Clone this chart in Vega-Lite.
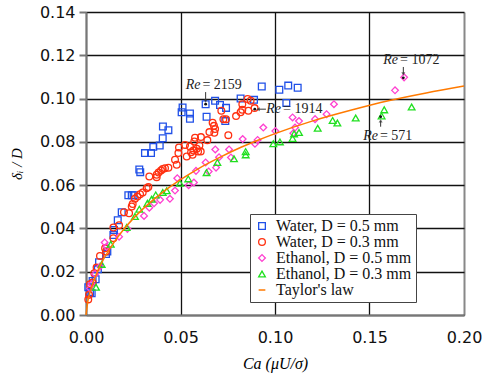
{
  "$schema": "https://vega.github.io/schema/vega-lite/v6.json",
  "width": 378,
  "height": 303,
  "autosize": "none",
  "padding": {"left": 86, "top": 12, "right": 19, "bottom": 64},
  "background": "white",
  "config": {"view": {"stroke": null}, "font": "Liberation Serif"},
  "datasets": {
    "pts": [
      {"s": "Water, D = 0.5 mm", "ca": 0.093, "d": 0.1056},
      {"s": "Water, D = 0.5 mm", "ca": 0.1023, "d": 0.1041},
      {"s": "Water, D = 0.5 mm", "ca": 0.107, "d": 0.106},
      {"s": "Water, D = 0.5 mm", "ca": 0.112, "d": 0.105},
      {"s": "Water, D = 0.5 mm", "ca": 0.106, "d": 0.098},
      {"s": "Water, D = 0.5 mm", "ca": 0.0818, "d": 0.1},
      {"s": "Water, D = 0.5 mm", "ca": 0.0889, "d": 0.0994},
      {"s": "Water, D = 0.5 mm", "ca": 0.0683, "d": 0.099},
      {"s": "Water, D = 0.5 mm", "ca": 0.0633, "d": 0.0974},
      {"s": "Water, D = 0.5 mm", "ca": 0.0709, "d": 0.097},
      {"s": "Water, D = 0.5 mm", "ca": 0.0741, "d": 0.0957},
      {"s": "Water, D = 0.5 mm", "ca": 0.0638, "d": 0.0916},
      {"s": "Water, D = 0.5 mm", "ca": 0.0511, "d": 0.0959},
      {"s": "Water, D = 0.5 mm", "ca": 0.0506, "d": 0.0937},
      {"s": "Water, D = 0.5 mm", "ca": 0.055, "d": 0.0931},
      {"s": "Water, D = 0.5 mm", "ca": 0.055, "d": 0.0907},
      {"s": "Water, D = 0.5 mm", "ca": 0.0737, "d": 0.0896},
      {"s": "Water, D = 0.5 mm", "ca": 0.0407, "d": 0.0871},
      {"s": "Water, D = 0.5 mm", "ca": 0.0436, "d": 0.0854},
      {"s": "Water, D = 0.5 mm", "ca": 0.0406, "d": 0.0817},
      {"s": "Water, D = 0.5 mm", "ca": 0.039, "d": 0.0783},
      {"s": "Water, D = 0.5 mm", "ca": 0.0356, "d": 0.0777},
      {"s": "Water, D = 0.5 mm", "ca": 0.0344, "d": 0.0748},
      {"s": "Water, D = 0.5 mm", "ca": 0.0312, "d": 0.0748},
      {"s": "Water, D = 0.5 mm", "ca": 0.0282, "d": 0.0672},
      {"s": "Water, D = 0.5 mm", "ca": 0.0287, "d": 0.066},
      {"s": "Water, D = 0.5 mm", "ca": 0.0224, "d": 0.0553},
      {"s": "Water, D = 0.5 mm", "ca": 0.0242, "d": 0.0553},
      {"s": "Water, D = 0.5 mm", "ca": 0.0252, "d": 0.0553},
      {"s": "Water, D = 0.5 mm", "ca": 0.0189, "d": 0.0475},
      {"s": "Water, D = 0.5 mm", "ca": 0.0168, "d": 0.0438},
      {"s": "Water, D = 0.5 mm", "ca": 0.0148, "d": 0.0393},
      {"s": "Water, D = 0.5 mm", "ca": 0.0145, "d": 0.037},
      {"s": "Water, D = 0.5 mm", "ca": 0.0113, "d": 0.0293},
      {"s": "Water, D = 0.5 mm", "ca": 0.0106, "d": 0.0282},
      {"s": "Water, D = 0.5 mm", "ca": 0.0069, "d": 0.0244},
      {"s": "Water, D = 0.5 mm", "ca": 0.0063, "d": 0.0211},
      {"s": "Water, D = 0.5 mm", "ca": 0.0051, "d": 0.0165},
      {"s": "Water, D = 0.5 mm", "ca": 0.0035, "d": 0.0157},
      {"s": "Water, D = 0.5 mm", "ca": 0.0012, "d": 0.0128},
      {"s": "Water, D = 0.5 mm", "ca": 0.0021, "d": 0.0106},
      {"s": "Water, D = 0.5 mm", "ca": 0.003, "d": 0.01},
      {"s": "Water, D = 0.3 mm", "ca": 0.0855, "d": 0.0998},
      {"s": "Water, D = 0.3 mm", "ca": 0.0871, "d": 0.099},
      {"s": "Water, D = 0.3 mm", "ca": 0.0827, "d": 0.0974},
      {"s": "Water, D = 0.3 mm", "ca": 0.0859, "d": 0.0944},
      {"s": "Water, D = 0.3 mm", "ca": 0.0827, "d": 0.0948},
      {"s": "Water, D = 0.3 mm", "ca": 0.0892, "d": 0.0956},
      {"s": "Water, D = 0.3 mm", "ca": 0.0794, "d": 0.0919},
      {"s": "Water, D = 0.3 mm", "ca": 0.0818, "d": 0.0937},
      {"s": "Water, D = 0.3 mm", "ca": 0.0716, "d": 0.0944},
      {"s": "Water, D = 0.3 mm", "ca": 0.0727, "d": 0.0905},
      {"s": "Water, D = 0.3 mm", "ca": 0.0741, "d": 0.0905},
      {"s": "Water, D = 0.3 mm", "ca": 0.067, "d": 0.0888},
      {"s": "Water, D = 0.3 mm", "ca": 0.0677, "d": 0.0874},
      {"s": "Water, D = 0.3 mm", "ca": 0.0683, "d": 0.0859},
      {"s": "Water, D = 0.3 mm", "ca": 0.0679, "d": 0.0842},
      {"s": "Water, D = 0.3 mm", "ca": 0.0653, "d": 0.0845},
      {"s": "Water, D = 0.3 mm", "ca": 0.0753, "d": 0.0831},
      {"s": "Water, D = 0.3 mm", "ca": 0.0642, "d": 0.0808},
      {"s": "Water, D = 0.3 mm", "ca": 0.0608, "d": 0.0822},
      {"s": "Water, D = 0.3 mm", "ca": 0.0577, "d": 0.0819},
      {"s": "Water, D = 0.3 mm", "ca": 0.0573, "d": 0.0802},
      {"s": "Water, D = 0.3 mm", "ca": 0.06, "d": 0.0783},
      {"s": "Water, D = 0.3 mm", "ca": 0.0586, "d": 0.0768},
      {"s": "Water, D = 0.3 mm", "ca": 0.055, "d": 0.0779},
      {"s": "Water, D = 0.3 mm", "ca": 0.0568, "d": 0.076},
      {"s": "Water, D = 0.3 mm", "ca": 0.0593, "d": 0.0755},
      {"s": "Water, D = 0.3 mm", "ca": 0.0607, "d": 0.0755},
      {"s": "Water, D = 0.3 mm", "ca": 0.0524, "d": 0.0786},
      {"s": "Water, D = 0.3 mm", "ca": 0.0556, "d": 0.0752},
      {"s": "Water, D = 0.3 mm", "ca": 0.0564, "d": 0.074},
      {"s": "Water, D = 0.3 mm", "ca": 0.0533, "d": 0.0732},
      {"s": "Water, D = 0.3 mm", "ca": 0.0492, "d": 0.0774},
      {"s": "Water, D = 0.3 mm", "ca": 0.0489, "d": 0.0748},
      {"s": "Water, D = 0.3 mm", "ca": 0.0471, "d": 0.0717},
      {"s": "Water, D = 0.3 mm", "ca": 0.048, "d": 0.0694},
      {"s": "Water, D = 0.3 mm", "ca": 0.0436, "d": 0.068},
      {"s": "Water, D = 0.3 mm", "ca": 0.0418, "d": 0.0678},
      {"s": "Water, D = 0.3 mm", "ca": 0.0406, "d": 0.0675},
      {"s": "Water, D = 0.3 mm", "ca": 0.0397, "d": 0.0668},
      {"s": "Water, D = 0.3 mm", "ca": 0.0384, "d": 0.0658},
      {"s": "Water, D = 0.3 mm", "ca": 0.0374, "d": 0.0648},
      {"s": "Water, D = 0.3 mm", "ca": 0.0374, "d": 0.0637},
      {"s": "Water, D = 0.3 mm", "ca": 0.0335, "d": 0.064},
      {"s": "Water, D = 0.3 mm", "ca": 0.033, "d": 0.0591},
      {"s": "Water, D = 0.3 mm", "ca": 0.0321, "d": 0.0586},
      {"s": "Water, D = 0.3 mm", "ca": 0.03, "d": 0.0566},
      {"s": "Water, D = 0.3 mm", "ca": 0.0286, "d": 0.0558},
      {"s": "Water, D = 0.3 mm", "ca": 0.0272, "d": 0.0547},
      {"s": "Water, D = 0.3 mm", "ca": 0.0259, "d": 0.0537},
      {"s": "Water, D = 0.3 mm", "ca": 0.0247, "d": 0.0513},
      {"s": "Water, D = 0.3 mm", "ca": 0.0242, "d": 0.0501},
      {"s": "Water, D = 0.3 mm", "ca": 0.0228, "d": 0.047},
      {"s": "Water, D = 0.3 mm", "ca": 0.0201, "d": 0.0475},
      {"s": "Water, D = 0.3 mm", "ca": 0.0175, "d": 0.0415},
      {"s": "Water, D = 0.3 mm", "ca": 0.0145, "d": 0.0404},
      {"s": "Water, D = 0.3 mm", "ca": 0.0145, "d": 0.0355},
      {"s": "Water, D = 0.3 mm", "ca": 0.0101, "d": 0.0308},
      {"s": "Water, D = 0.3 mm", "ca": 0.0106, "d": 0.0293},
      {"s": "Water, D = 0.3 mm", "ca": 0.0074, "d": 0.0273},
      {"s": "Water, D = 0.3 mm", "ca": 0.0056, "d": 0.0219},
      {"s": "Water, D = 0.3 mm", "ca": 0.0044, "d": 0.0193},
      {"s": "Water, D = 0.3 mm", "ca": 0.0035, "d": 0.015},
      {"s": "Water, D = 0.3 mm", "ca": 0.0021, "d": 0.0142},
      {"s": "Water, D = 0.3 mm", "ca": 0.0016, "d": 0.0093},
      {"s": "Water, D = 0.3 mm", "ca": 0.0012, "d": 0.0072},
      {"s": "Ethanol, D = 0.5 mm", "ca": 0.1683, "d": 0.1098},
      {"s": "Ethanol, D = 0.5 mm", "ca": 0.1635, "d": 0.1038},
      {"s": "Ethanol, D = 0.5 mm", "ca": 0.1312, "d": 0.0974},
      {"s": "Ethanol, D = 0.5 mm", "ca": 0.1273, "d": 0.0928},
      {"s": "Ethanol, D = 0.5 mm", "ca": 0.1212, "d": 0.0905},
      {"s": "Ethanol, D = 0.5 mm", "ca": 0.1093, "d": 0.0913},
      {"s": "Ethanol, D = 0.5 mm", "ca": 0.1127, "d": 0.0896},
      {"s": "Ethanol, D = 0.5 mm", "ca": 0.1106, "d": 0.0866},
      {"s": "Ethanol, D = 0.5 mm", "ca": 0.0938, "d": 0.0866},
      {"s": "Ethanol, D = 0.5 mm", "ca": 0.1002, "d": 0.085},
      {"s": "Ethanol, D = 0.5 mm", "ca": 0.1097, "d": 0.084},
      {"s": "Ethanol, D = 0.5 mm", "ca": 0.0829, "d": 0.0813},
      {"s": "Ethanol, D = 0.5 mm", "ca": 0.0908, "d": 0.0809},
      {"s": "Ethanol, D = 0.5 mm", "ca": 0.0894, "d": 0.0791},
      {"s": "Ethanol, D = 0.5 mm", "ca": 0.0684, "d": 0.0765},
      {"s": "Ethanol, D = 0.5 mm", "ca": 0.0757, "d": 0.0765},
      {"s": "Ethanol, D = 0.5 mm", "ca": 0.0767, "d": 0.0728},
      {"s": "Ethanol, D = 0.5 mm", "ca": 0.0704, "d": 0.0729},
      {"s": "Ethanol, D = 0.5 mm", "ca": 0.0633, "d": 0.0705},
      {"s": "Ethanol, D = 0.5 mm", "ca": 0.0688, "d": 0.0681},
      {"s": "Ethanol, D = 0.5 mm", "ca": 0.0582, "d": 0.0666},
      {"s": "Ethanol, D = 0.5 mm", "ca": 0.0649, "d": 0.0663},
      {"s": "Ethanol, D = 0.5 mm", "ca": 0.0483, "d": 0.0632},
      {"s": "Ethanol, D = 0.5 mm", "ca": 0.0571, "d": 0.0612},
      {"s": "Ethanol, D = 0.5 mm", "ca": 0.0543, "d": 0.06},
      {"s": "Ethanol, D = 0.5 mm", "ca": 0.0471, "d": 0.0575},
      {"s": "Ethanol, D = 0.5 mm", "ca": 0.0444, "d": 0.0537},
      {"s": "Ethanol, D = 0.5 mm", "ca": 0.0392, "d": 0.0532},
      {"s": "Ethanol, D = 0.5 mm", "ca": 0.036, "d": 0.0516},
      {"s": "Ethanol, D = 0.5 mm", "ca": 0.0335, "d": 0.0496},
      {"s": "Ethanol, D = 0.5 mm", "ca": 0.0307, "d": 0.0458},
      {"s": "Ethanol, D = 0.5 mm", "ca": 0.0219, "d": 0.0398},
      {"s": "Ethanol, D = 0.5 mm", "ca": 0.0175, "d": 0.0362},
      {"s": "Ethanol, D = 0.5 mm", "ca": 0.0099, "d": 0.0335},
      {"s": "Ethanol, D = 0.5 mm", "ca": 0.0109, "d": 0.0316},
      {"s": "Ethanol, D = 0.5 mm", "ca": 0.0074, "d": 0.0224},
      {"s": "Ethanol, D = 0.5 mm", "ca": 0.0048, "d": 0.019},
      {"s": "Ethanol, D = 0.5 mm", "ca": 0.003, "d": 0.0143},
      {"s": "Ethanol, D = 0.5 mm", "ca": 0.0021, "d": 0.0123},
      {"s": "Ethanol, D = 0.3 mm", "ca": 0.1723, "d": 0.0961},
      {"s": "Ethanol, D = 0.3 mm", "ca": 0.1578, "d": 0.0948},
      {"s": "Ethanol, D = 0.3 mm", "ca": 0.1564, "d": 0.092},
      {"s": "Ethanol, D = 0.3 mm", "ca": 0.1427, "d": 0.091},
      {"s": "Ethanol, D = 0.3 mm", "ca": 0.1305, "d": 0.0899},
      {"s": "Ethanol, D = 0.3 mm", "ca": 0.133, "d": 0.0887},
      {"s": "Ethanol, D = 0.3 mm", "ca": 0.1226, "d": 0.0863},
      {"s": "Ethanol, D = 0.3 mm", "ca": 0.1127, "d": 0.0843},
      {"s": "Ethanol, D = 0.3 mm", "ca": 0.1101, "d": 0.0837},
      {"s": "Ethanol, D = 0.3 mm", "ca": 0.1093, "d": 0.0816},
      {"s": "Ethanol, D = 0.3 mm", "ca": 0.1026, "d": 0.08},
      {"s": "Ethanol, D = 0.3 mm", "ca": 0.0991, "d": 0.0791},
      {"s": "Ethanol, D = 0.3 mm", "ca": 0.0845, "d": 0.0755},
      {"s": "Ethanol, D = 0.3 mm", "ca": 0.0845, "d": 0.074},
      {"s": "Ethanol, D = 0.3 mm", "ca": 0.0783, "d": 0.0722},
      {"s": "Ethanol, D = 0.3 mm", "ca": 0.0695, "d": 0.0705},
      {"s": "Ethanol, D = 0.3 mm", "ca": 0.0638, "d": 0.0658},
      {"s": "Ethanol, D = 0.3 mm", "ca": 0.0541, "d": 0.0629},
      {"s": "Ethanol, D = 0.3 mm", "ca": 0.0497, "d": 0.0609},
      {"s": "Ethanol, D = 0.3 mm", "ca": 0.0427, "d": 0.0574},
      {"s": "Ethanol, D = 0.3 mm", "ca": 0.0406, "d": 0.0566},
      {"s": "Ethanol, D = 0.3 mm", "ca": 0.0369, "d": 0.0555},
      {"s": "Ethanol, D = 0.3 mm", "ca": 0.0347, "d": 0.0535},
      {"s": "Ethanol, D = 0.3 mm", "ca": 0.0325, "d": 0.0516},
      {"s": "Ethanol, D = 0.3 mm", "ca": 0.0282, "d": 0.0489},
      {"s": "Ethanol, D = 0.3 mm", "ca": 0.0259, "d": 0.0455},
      {"s": "Ethanol, D = 0.3 mm", "ca": 0.0215, "d": 0.0404},
      {"s": "Ethanol, D = 0.3 mm", "ca": 0.0131, "d": 0.0327},
      {"s": "Ethanol, D = 0.3 mm", "ca": 0.0083, "d": 0.0234},
      {"s": "Ethanol, D = 0.3 mm", "ca": 0.0053, "d": 0.0128}
    ],
    "taylor": [
      {"s": "Taylor's law", "ca": 0, "d": 0},
      {"s": "Taylor's law", "ca": 0.001, "d": 0.0065},
      {"s": "Taylor's law", "ca": 0.0025, "d": 0.0116},
      {"s": "Taylor's law", "ca": 0.005, "d": 0.0178},
      {"s": "Taylor's law", "ca": 0.0075, "d": 0.0228},
      {"s": "Taylor's law", "ca": 0.01, "d": 0.0269},
      {"s": "Taylor's law", "ca": 0.015, "d": 0.0338},
      {"s": "Taylor's law", "ca": 0.02, "d": 0.0396},
      {"s": "Taylor's law", "ca": 0.03, "d": 0.0489},
      {"s": "Taylor's law", "ca": 0.04, "d": 0.0563},
      {"s": "Taylor's law", "ca": 0.05, "d": 0.0625},
      {"s": "Taylor's law", "ca": 0.06, "d": 0.0679},
      {"s": "Taylor's law", "ca": 0.07, "d": 0.0725},
      {"s": "Taylor's law", "ca": 0.08, "d": 0.0767},
      {"s": "Taylor's law", "ca": 0.09, "d": 0.0804},
      {"s": "Taylor's law", "ca": 0.1, "d": 0.0838},
      {"s": "Taylor's law", "ca": 0.12, "d": 0.0897},
      {"s": "Taylor's law", "ca": 0.14, "d": 0.0946},
      {"s": "Taylor's law", "ca": 0.16, "d": 0.099},
      {"s": "Taylor's law", "ca": 0.18, "d": 0.1026},
      {"s": "Taylor's law", "ca": 0.2, "d": 0.1058}
    ],
    "ann": [
      {"lab": "= 2159", "tx": 0.0611, "ty": 0.1045, "x1": 0.0633, "y1": 0.103, "x2": 0.0633, "y2": 0.0989, "dir": "down", "px": 0.0633, "py": 0.0974},
      {"lab": "= 1914", "tx": 0.1037, "ty": 0.0932, "x1": 0.0952, "y1": 0.0951, "x2": 0.091, "y2": 0.0951, "dir": "left", "px": 0.0893, "py": 0.0951},
      {"lab": "= 1072", "tx": 0.1656, "ty": 0.116, "x1": 0.1679, "y1": 0.1146, "x2": 0.1679, "y2": 0.1114, "dir": "down", "px": 0.1679, "py": 0.1096},
      {"lab": "= 571", "tx": 0.155, "ty": 0.0809, "x1": 0.1559, "y1": 0.087, "x2": 0.1559, "y2": 0.0897, "dir": "up", "px": 0.1559, "py": 0.0916}
    ]
  },
  "layer": [
    {
      "data": {"name": "pts"},
      "mark": {"type": "point", "filled": false, "size": 45, "strokeWidth": 1.3, "opacity": 1},
      "encoding": {
        "x": {
          "field": "ca", "type": "quantitative",
          "scale": {"domain": [0, 0.2], "nice": false},
          "axis": {
            "values": [0, 0.05, 0.1, 0.15, 0.2], "format": ".2f",
            "title": "Ca (μU/σ)", "titleFont": "Liberation Serif", "titleFontStyle": "italic", "titleFontWeight": "normal", "titleFontSize": 16,
            "titleBaseline": "alphabetic", "titleY": 53,
            "labelFont": "DejaVu Sans", "labelFontSize": 16, "labelColor": "#111", "labelBaseline": "alphabetic", "labelPadding": 27,
            "labelFlush": false, "labelOverlap": false,
            "ticks": false,
            "grid": true,
            "gridColor": {"condition": {"test": "datum.value >= 0.2", "value": "#888"}, "value": "#111"},
            "gridWidth": {"condition": {"test": "datum.value >= 0.2", "value": 2}, "value": 1.3},
            "gridOpacity": 1,
            "domainColor": "#777", "domainWidth": 2
          }
        },
        "y": {
          "field": "d", "type": "quantitative",
          "scale": {"domain": [0, 0.14], "nice": false},
          "axis": {
            "values": [0, 0.02, 0.04, 0.06, 0.08, 0.1, 0.12, 0.14], "format": ".2f",
            "title": "δᵢ / D", "titleFont": "Liberation Serif", "titleFontStyle": "italic", "titleFontWeight": "normal", "titleFontSize": 15,
            "titleBaseline": "alphabetic", "titleX": -65,
            "labelFont": "DejaVu Sans", "labelFontSize": 16, "labelColor": "#111", "labelPadding": 4,
            "labelFlush": false, "labelOverlap": false,
            "ticks": true, "tickSize": 7, "tickColor": "#777", "tickWidth": 2,
            "grid": true, "gridColor": "#111", "gridWidth": 1.3, "gridOpacity": 1,
            "domainColor": "#777", "domainWidth": 2
          }
        },
        "color": {
          "field": "s", "type": "nominal",
          "scale": {
            "domain": ["Water, D = 0.5 mm", "Water, D = 0.3 mm", "Ethanol, D = 0.5 mm", "Ethanol, D = 0.3 mm", "Taylor's law"],
            "range": ["#2050e8", "#ff3010", "#ff40d0", "#20e020", "#ff7a00"]
          },
          "legend": {
            "title": null, "orient": "none", "legendX": 164, "legendY": 202,
            "labelFont": "Liberation Serif", "labelFontSize": 16, "labelColor": "#111", "labelOffset": 6,
            "rowPadding": 0, "padding": 4, "clipHeight": 16,
            "strokeColor": "#444", "fillColor": "white", "symbolStrokeWidth": 1.3, "symbolSize": 45,
            "encode": {"symbols": {"update": {"size": {"signal": "datum.value === \"Taylor's law\" ? 441 : 45"}}}}
          }
        },
        "shape": {
          "field": "s", "type": "nominal",
          "scale": {
            "domain": ["Water, D = 0.5 mm", "Water, D = 0.3 mm", "Ethanol, D = 0.5 mm", "Ethanol, D = 0.3 mm", "Taylor's law"],
            "range": ["square", "circle", "diamond", "triangle-up", "stroke"]
          },
          "legend": {
            "title": null, "orient": "none", "legendX": 164, "legendY": 202,
            "labelFont": "Liberation Serif", "labelFontSize": 16, "labelColor": "#111", "labelOffset": 6,
            "rowPadding": 0, "padding": 4, "clipHeight": 16,
            "strokeColor": "#444", "fillColor": "white", "symbolStrokeWidth": 1.3, "symbolSize": 45,
            "encode": {"symbols": {"update": {"size": {"signal": "datum.value === \"Taylor's law\" ? 441 : 45"}}}}
          }
        }
      }
    },
    {
      "data": {"name": "taylor"},
      "mark": {"type": "line", "strokeWidth": 1.5, "interpolate": "monotone"},
      "encoding": {
        "x": {"field": "ca", "type": "quantitative"},
        "y": {"field": "d", "type": "quantitative"},
        "color": {"field": "s", "type": "nominal"}
      }
    },
    {
      "data": {"name": "ann"},
      "mark": {"type": "rule", "color": "#333", "strokeWidth": 1},
      "encoding": {
        "x": {"field": "x1", "type": "quantitative"},
        "y": {"field": "y1", "type": "quantitative"},
        "x2": {"field": "x2"},
        "y2": {"field": "y2"}
      }
    },
    {
      "data": {"name": "ann"},
      "transform": [{"filter": "datum.dir === 'down'"}],
      "mark": {"type": "point", "shape": "triangle-down", "filled": true, "color": "#333", "size": 16},
      "encoding": {
        "x": {"field": "x2", "type": "quantitative"},
        "y": {"field": "y2", "type": "quantitative"}
      }
    },
    {
      "data": {"name": "ann"},
      "transform": [{"filter": "datum.dir === 'up'"}],
      "mark": {"type": "point", "shape": "triangle-up", "filled": true, "color": "#333", "size": 16},
      "encoding": {
        "x": {"field": "x2", "type": "quantitative"},
        "y": {"field": "y2", "type": "quantitative"}
      }
    },
    {
      "data": {"name": "ann"},
      "transform": [{"filter": "datum.dir === 'left'"}],
      "mark": {"type": "point", "shape": "triangle-left", "filled": true, "color": "#333", "size": 16},
      "encoding": {
        "x": {"field": "x2", "type": "quantitative"},
        "y": {"field": "y2", "type": "quantitative"}
      }
    },
    {
      "data": {"name": "ann"},
      "mark": {"type": "point", "shape": "circle", "filled": true, "color": "#111", "size": 8, "opacity": 1},
      "encoding": {
        "x": {"field": "px", "type": "quantitative"},
        "y": {"field": "py", "type": "quantitative"}
      }
    },
    {
      "data": {"name": "ann"},
      "mark": {"type": "text", "text": "Re", "font": "Liberation Serif", "fontStyle": "italic", "fontSize": 14, "align": "right", "baseline": "alphabetic", "dx": -1, "color": "#222"},
      "encoding": {
        "x": {"field": "tx", "type": "quantitative"},
        "y": {"field": "ty", "type": "quantitative"}
      }
    },
    {
      "data": {"name": "ann"},
      "mark": {"type": "text", "font": "Liberation Serif", "fontSize": 14, "align": "left", "baseline": "alphabetic", "dx": 1, "color": "#222"},
      "encoding": {
        "x": {"field": "tx", "type": "quantitative"},
        "y": {"field": "ty", "type": "quantitative"},
        "text": {"field": "lab"}
      }
    }
  ]
}
